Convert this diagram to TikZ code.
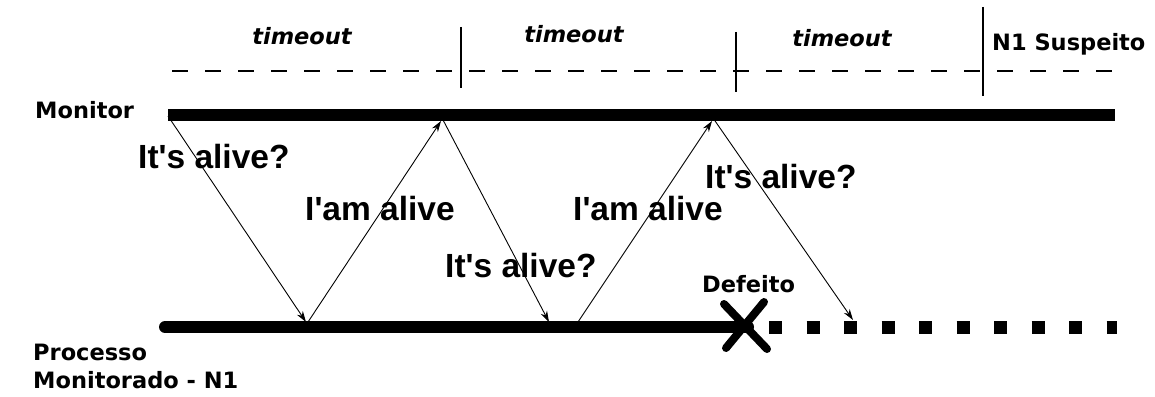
\documentclass[tikz,border=0pt]{standalone}
\usepackage{fontspec}
\setmainfont{DejaVu Sans}
\newfontfamily\msgfont{Liberation Sans}
\newfontfamily\lblfont{DejaVu Sans}
\usetikzlibrary{arrows.meta}
\begin{document}
\begin{tikzpicture}[x=1pt,y=-1pt,
  lifeline/.style={line width=12pt},
  msg/.style={line width=0.9pt,-{Stealth[length=11pt,width=7pt]}},
  msgtext/.style={font=\msgfont\bfseries\fontsize{33.5}{38}\selectfont,inner sep=0pt,anchor=base west},
  lbl/.style={font=\lblfont\bfseries\fontsize{22.5}{28}\selectfont,inner sep=0pt,anchor=base west},
  tmo/.style={font=\lblfont\bfseries\itshape\fontsize{22.5}{26}\selectfont,inner sep=0pt,anchor=base},
  sep/.style={line width=1.6pt},
  xmark/.style={line width=8pt,line cap=round}]
\useasboundingbox[fill=white] (0,0) rectangle (1155,396);
% dashed timeline
\coordinate (d0) at (172,71);
\coordinate (d1) at (1115,71);
\draw[line width=1.4pt,dash pattern=on 16pt off 17pt] (d0) -- (d1);
% separators
\coordinate (s1a) at (461,27); \coordinate (s1b) at (461,88);
\coordinate (s2a) at (736,32); \coordinate (s2b) at (736,92);
\coordinate (s3a) at (983,7);  \coordinate (s3b) at (983,96);
\draw[sep] (s1a) -- (s1b);
\draw[sep] (s2a) -- (s2b);
\draw[sep] (s3a) -- (s3b);
\node[tmo] (t1) at (302,45) {timeout};
\node[tmo] (t2) at (574,43) {timeout};
\node[tmo] (t3) at (842,47) {timeout};
\node[lbl] (susp) at (992,50) {N1 Suspeito};
% monitor line
\node[lbl] (mon) at (35,118) {Monitor};
\coordinate (m0) at (168,115);
\coordinate (m1) at (1115,115);
\draw[lifeline] (m0) -- (m1);
% process line
\coordinate (p0) at (165,327);
\coordinate (px) at (748,327);
\coordinate (p1) at (1117,327);
\draw[lifeline,line cap=round] (p0) -- (px);
\draw[line width=13pt,dash pattern=on 13pt off 24.5pt] ([xshift=21pt]px) -- (p1);
\node[lbl] (proc) at (33,360) {Processo};
\node[lbl] (proc2) at (33,388) {Monitorado - N1};
% failure mark
\coordinate (xa) at (724,304); \coordinate (xb) at (767,349);
\coordinate (xc) at (764,302); \coordinate (xd) at (726,348);
\draw[xmark] (xa) -- (xb);
\draw[xmark] (xc) -- (xd);
\node[lbl] (def) at (702,292) {Defeito};
% messages
\coordinate (a0) at (168,116); \coordinate (a1) at (306,322);
\coordinate (b0) at (308,322); \coordinate (b1) at (441,121);
\coordinate (c0) at (442,118); \coordinate (c1) at (549,322);
\coordinate (e0) at (578,322); \coordinate (e1) at (712,121);
\coordinate (f0) at (713,118); \coordinate (f1) at (853,320);
\draw[msg] (a0) -- (a1);
\draw[msg] (b0) -- (b1);
\draw[msg] (c0) -- (c1);
\draw[msg] (e0) -- (e1);
\draw[msg] (f0) -- (f1);
\node[msgtext] (q1) at (138,168) {It's alive?};
\node[msgtext] (r1) at (305,220) {I'am alive};
\node[msgtext] (q2) at (445,277) {It's alive?};
\node[msgtext] (r2) at (573,220) {I'am alive};
\node[msgtext] (q3) at (705,188) {It's alive?};
\end{tikzpicture}
\end{document}
